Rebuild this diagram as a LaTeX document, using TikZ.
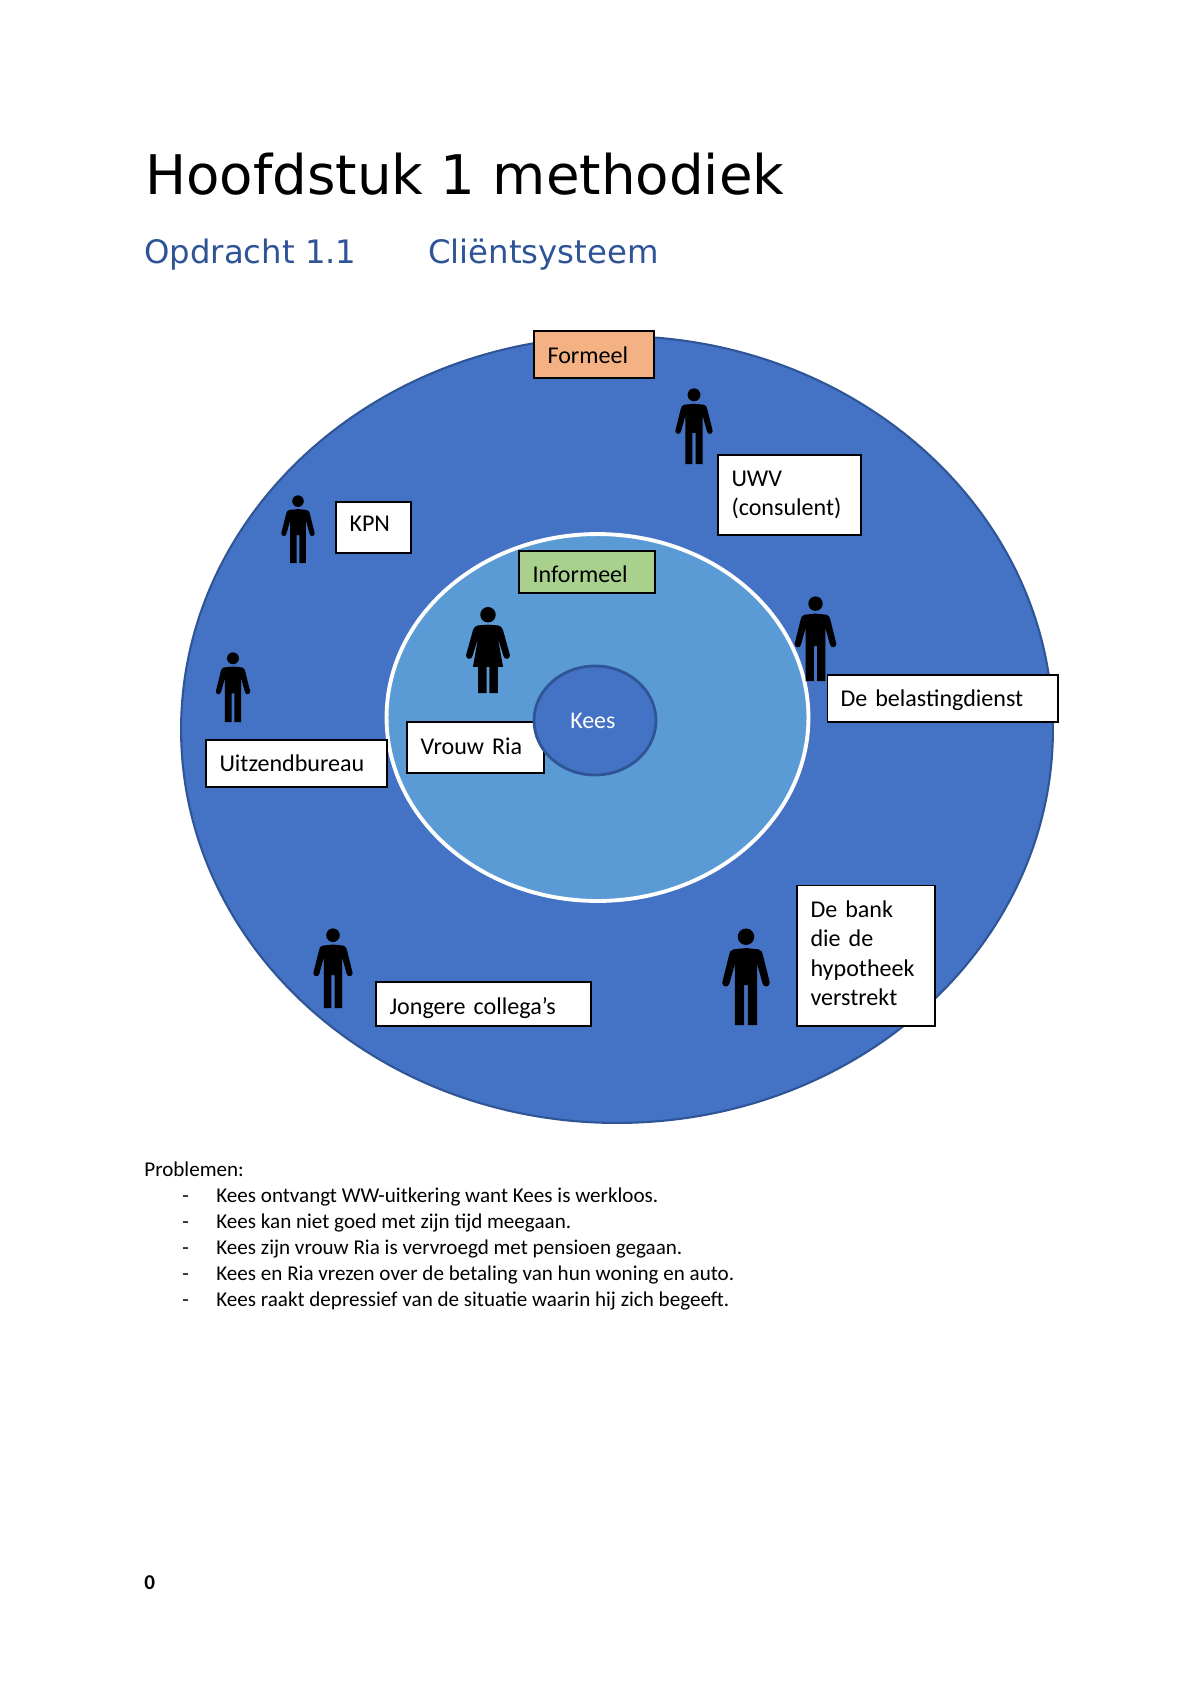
\documentclass[tikz,border=0pt]{standalone}
\usepackage{fontspec}
\setmainfont{Carlito}
\newfontfamily\headfont{DejaVu Sans}
\usetikzlibrary{shapes.geometric}
\definecolor{ringblue}{HTML}{4472C4}
\definecolor{ringedge}{HTML}{2F5597}
\definecolor{innerblue}{HTML}{5B9BD5}
\definecolor{headblue}{HTML}{2F5496}
\definecolor{formeelfill}{HTML}{F4B183}
\definecolor{informeelfill}{HTML}{A9D18E}
\tikzset{
  labelbox/.style={draw=black, line width=0.6pt, fill=white, inner xsep=0.27cm, inner ysep=0pt,
    align=left, font=\fontsize{13.7}{16.8}\selectfont},
  textdrop/.style={text depth=0pt, text height=#1},
  plaintext/.style={anchor=base west, inner sep=0pt, font=\fontsize{12}{14}\selectfont},
  man/.pic={
    \fill (0,0.09) circle (0.085);
    \fill (0,0.207) -- (0.13,0.22) .. controls (0.16,0.23) and (0.17,0.25) .. (0.175,0.28)
      -- (0.245,0.56) .. controls (0.25,0.61) and (0.18,0.62) .. (0.17,0.57)
      -- (0.115,0.37) -- (0.115,1) -- (0.02,1) -- (0.02,0.59) -- (-0.02,0.59) -- (-0.02,1)
      -- (-0.115,1) -- (-0.115,0.37) -- (-0.17,0.57)
      .. controls (-0.18,0.62) and (-0.25,0.61) .. (-0.245,0.56)
      -- (-0.175,0.28) .. controls (-0.17,0.25) and (-0.16,0.23) .. (-0.13,0.22) -- cycle;
  },
  woman/.pic={
    \fill (0,0.09) circle (0.09);
    \fill (0,0.205) -- (0.12,0.215) .. controls (0.15,0.22) and (0.165,0.24) .. (0.175,0.27)
      -- (0.255,0.56) .. controls (0.26,0.61) and (0.19,0.62) .. (0.18,0.57)
      -- (0.115,0.36) -- (0.175,0.695) -- (0.115,0.695) -- (0.115,1) -- (0.015,1) -- (0.015,0.695)
      -- (-0.015,0.695) -- (-0.015,1) -- (-0.115,1) -- (-0.115,0.695) -- (-0.175,0.695) -- (-0.115,0.36)
      -- (-0.18,0.57) .. controls (-0.19,0.62) and (-0.26,0.61) .. (-0.255,0.56)
      -- (-0.175,0.27) .. controls (-0.165,0.24) and (-0.15,0.22) .. (-0.12,0.215) -- cycle;
  }
}
\begin{document}
\begin{tikzpicture}[x=0.02cm, y=-0.02cm]
  \useasboundingbox (0,0) rectangle (1200,1698);
  % heading
  \node[anchor=base west, inner sep=0pt, font=\headfont\fontsize{31.1}{38}\selectfont] (title) at (145,194) {Hoofdstuk 1 methodiek};
  \node[anchor=base west, inner sep=0pt, text=headblue, font=\headfont\fontsize{18.4}{22}\selectfont] (opdracht) at (144,263) {Opdracht 1.1};
  \node[anchor=base west, inner sep=0pt, text=headblue, font=\headfont\fontsize{18.4}{22}\selectfont] (systeem) at (428,263) {Cliëntsysteem};
  % rings
  \node[ellipse, draw=ringedge, line width=1.2pt, fill=ringblue, inner sep=0pt, minimum width=8.72cm*2, minimum height=7.87cm*2] (outer) at (617,729.5) {};
  \node[ellipse, draw=white, line width=2.2pt, fill=innerblue, inner sep=0pt, minimum width=8.44cm, minimum height=7.34cm] (inner) at (597.5,717.5) {};
  % people
  \pic[scale=76] (uwvman) at (694,388) {man};
  \pic[scale=68] (kpnman) at (298,495) {man};
  \pic[scale=70] (uitzendman) at (233,652) {man};
  \pic[scale=85] (belastingman) at (815.5,596) {man};
  \pic[scale=80] (collegaman) at (333,928) {man};
  \pic[scale=97] (bankman) at (746,928) {man};
  \pic[scale=86] (riawoman) at (488,607) {woman};
  % labels
  \node[labelbox, textdrop=10pt, fill=formeelfill, minimum height=0.94cm, text width=1.86cm] (formeel) at (594,354.5) {Formeel};
  \node[labelbox, textdrop=12.4pt, fill=informeelfill, minimum height=0.84cm, text width=2.18cm] (informeel) at (587,572) {Informeel};
  \node[labelbox, minimum height=1.6cm, text width=2.32cm] (uwv) at (789.5,495) {UWV\\(consulent)};
  \node[labelbox, textdrop=5pt, minimum height=1.02cm, text width=0.96cm] (kpn) at (373.5,527.5) {KPN};
  \node[labelbox, textdrop=9.4pt, minimum height=0.94cm, text width=4.08cm] (belasting) at (942.5,698.5) {De belastingdienst};
  \node[labelbox, minimum height=0.94cm, text width=3.08cm] (uitzend) at (296.5,763.5) {Uitzendbureau};
  \node[labelbox, textdrop=7.8pt, minimum height=1.02cm, text width=2.2cm] (ria) at (475.5,747.5) {Vrouw Ria};
  \node[labelbox, textdrop=12pt, minimum height=0.88cm, text width=3.76cm] (collega) at (483.5,1004) {Jongere collega’s};
  \node[labelbox, text depth=53pt, minimum height=2.82cm, text width=2.22cm] (bank) at (866,955.5) {De bank\\die de\\hypotheek\\verstrekt};
  \node[ellipse, draw=ringedge, line width=1.6pt, fill=ringblue, text=white, inner sep=0pt, minimum width=2.44cm, minimum height=2.18cm, font=\fontsize{13.6}{15}\selectfont] (kees) at (595,720.5) {Kees\kern2.5pt};
  % problems
  \node[plaintext] (problemen) at (144,1176) {Problemen:};
  \foreach \line [count=\i from 1] in {Kees ontvangt WW-uitkering want Kees is werkloos.,
      Kees kan niet goed met zijn tijd meegaan.,
      Kees zijn vrouw Ria is vervroegd met pensioen gegaan.,
      Kees en Ria vrezen over de betaling van hun woning en auto.,
      Kees raakt depressief van de situatie waarin hij zich begeeft.} {
    \node[plaintext] (dash\i) at (182,1177+\i*25.8) {-};
    \node[plaintext] (line\i) at (216,1177+\i*25.8) {\line};
  }
  \node[plaintext, font=\fontsize{12}{14}\selectfont\bfseries] (pagenr) at (144,1589) {0};
\end{tikzpicture}
\end{document}
